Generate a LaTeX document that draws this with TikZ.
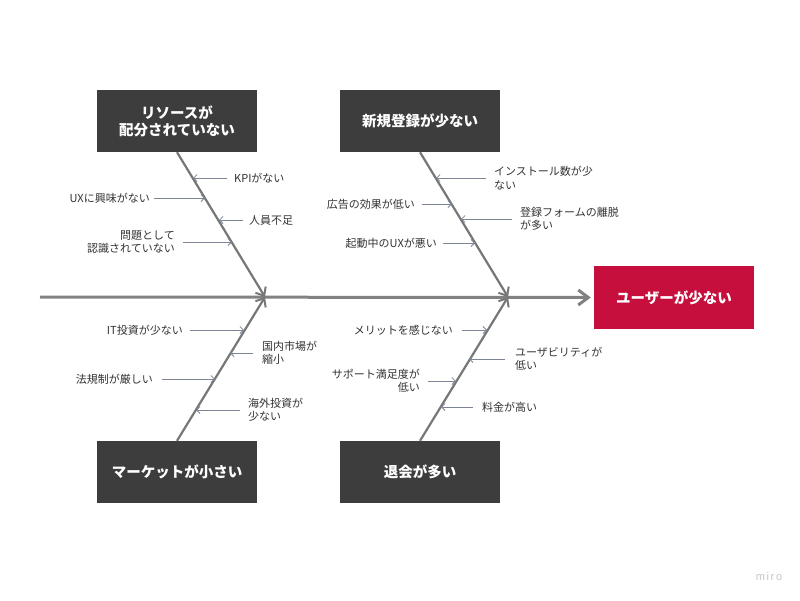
\documentclass[tikz,border=0pt]{standalone}
\usepackage{fontspec}
\setmainfont{Noto Sans CJK JP}
\newfontfamily\wmfont[LetterSpace=15]{Liberation Sans}
\usetikzlibrary{arrows.meta}
\definecolor{boxdark}{HTML}{3D3D3D}
\definecolor{effectred}{HTML}{C60F3C}
\definecolor{spinegray}{HTML}{828282}
\definecolor{bonegray}{HTML}{777777}
\definecolor{subgray}{HTML}{7D8596}
\definecolor{labeltext}{HTML}{333333}
\definecolor{wmgray}{HTML}{C4C4C4}
\begin{document}
\begin{tikzpicture}[x=1pt,y=-1pt,
  causebox/.style={fill=boxdark, text=white, font=\bfseries\fontsize{14.5}{17}\selectfont,
    minimum width=160pt, minimum height=62pt, inner sep=0pt, align=center},
  effectbox/.style={fill=effectred, text=white, font=\bfseries\fontsize{14.5}{17}\selectfont,
    minimum width=160pt, minimum height=63pt, inner sep=0pt, align=center},
  lbl/.style={text=labeltext, font=\fontsize{11}{13.5}\selectfont, inner sep=0pt},
  lblL/.style={lbl, anchor=west, align=left},
  lblR/.style={lbl, anchor=east, align=right},
  spine/.style={draw=spinegray, line width=3pt, -{Straight Barb[length=10pt,width=15pt,line width=3pt]}},
  bone/.style={draw=bonegray, line width=2.2pt, -{Straight Barb[length=7pt,width=12pt,line width=2pt]}},
  sub/.style={draw=subgray, line width=0.8pt, -{Straight Barb[length=3.5pt,width=7pt,line width=0.8pt]}}
]
\useasboundingbox (0,0) rectangle (800,600);
\fill[white] (0,0) rectangle (800,600);

% boxes
\node[causebox] (tl) at (177,121) {リソースが\\配分されていない};
\node[causebox] (tr) at (420,121) {新規登録が少ない};
\node[causebox] (bl) at (177,472) {マーケットが小さい};
\node[causebox] (br) at (420,472) {退会が多い};
\node[effectbox] (ef) at (674,297.5) {ユーザーが少ない};

% spine and bones
\coordinate (tail) at (40,297);
\coordinate (j1) at (265,297);
\coordinate (j2) at (508,297);
\draw[spine] (tail) -- ([xshift=-3pt]ef.west);
\draw[bone] (tl.south) -- (j1);
\draw[bone] (tr.south) -- (j2);
\draw[bone] (bl.north) -- (j1);
\draw[bone] (br.north) -- (j2);

% top-left causes
\node[lblL] (a1) at (234,178) {KPIがない};
\coordinate (a1b) at (193,178);
\draw[sub, shorten <=7pt] (a1.west) -- (a1b);
\node[lblR] (a2) at (150,198) {UXに興味がない};
\coordinate (a2b) at (205,198);
\draw[sub, shorten <=4pt] (a2.east) -- (a2b);
\node[lblL] (a3) at (249,220) {人員不足};
\coordinate (a3b) at (219,220);
\draw[sub, shorten <=6pt] (a3.west) -- (a3b);
\node[lblR] (a4) at (175,242) {問題として\\認識されていない};
\coordinate (a4b) at (232,242);
\draw[sub, shorten <=8pt] (a4.east) -- (a4b);

% top-right causes
\node[lblL] (b1) at (494,178) {インストール数が少\\ない};
\coordinate (b1b) at (436,178);
\draw[sub, shorten <=8pt] (b1.west) -- (b1b);
\node[lblR] (b2) at (415,204) {広告の効果が低い};
\coordinate (b2b) at (452,204);
\draw[sub, shorten <=7pt] (b2.east) -- (b2b);
\node[lblL] (b3) at (520,219) {登録フォームの離脱\\が多い};
\coordinate (b3b) at (461,219);
\draw[sub, shorten <=8pt] (b3.west) -- (b3b);
\node[lblR] (b4) at (437,243) {起動中のUXが悪い};
\coordinate (b4b) at (475,243);
\draw[sub, shorten <=6pt] (b4.east) -- (b4b);

% bottom-left causes
\node[lblR] (c1) at (183,330) {IT投資が少ない};
\coordinate (c1b) at (244,330);
\draw[sub, shorten <=7pt] (c1.east) -- (c1b);
\node[lblL] (c2) at (262,353) {国内市場が\\縮小};
\coordinate (c2b) at (230,353);
\draw[sub, shorten <=9pt] (c2.west) -- (c2b);
\node[lblR] (c3) at (153,379) {法規制が厳しい};
\coordinate (c3b) at (215,379);
\draw[sub, shorten <=9pt] (c3.east) -- (c3b);
\node[lblL] (c4) at (248,410) {海外投資が\\少ない};
\coordinate (c4b) at (196,410);
\draw[sub, shorten <=8pt] (c4.west) -- (c4b);

% bottom-right causes
\node[lblR] (d1) at (453,330) {メリットを感じない};
\coordinate (d1b) at (487,330);
\draw[sub, shorten <=9pt] (d1.east) -- (d1b);
\node[lblL] (d2) at (515,359) {ユーザビリティが\\低い};
\coordinate (d2b) at (469,359);
\draw[sub, shorten <=10pt] (d2.west) -- (d2b);
\node[lblR] (d3) at (420,381) {サポート満足度が\\低い};
\coordinate (d3b) at (456,381);
\draw[sub, shorten <=8pt] (d3.east) -- (d3b);
\node[lblL] (d4) at (482,407) {料金が高い};
\coordinate (d4b) at (441,407);
\draw[sub, shorten <=9pt] (d4.west) -- (d4b);

% watermark
\node[text=wmgray, font=\wmfont\fontsize{11}{13}\selectfont, inner sep=0pt] (wm) at (769,577) {miro};
\end{tikzpicture}
\end{document}
